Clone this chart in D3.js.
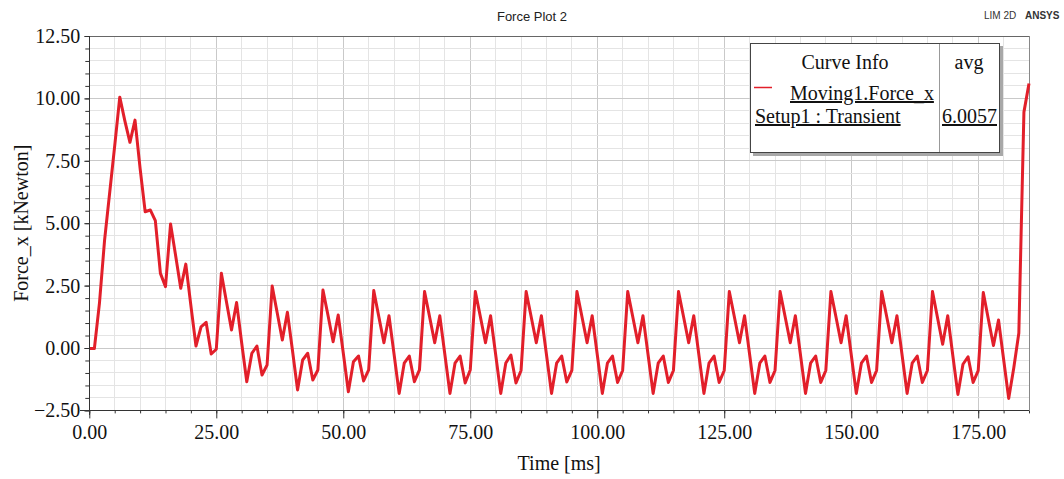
<!DOCTYPE html>
<html><head><meta charset="utf-8">
<script src="https://cdn.jsdelivr.net/npm/d3@7/dist/d3.min.js"></script>
<style>body{margin:0;background:#fff} svg{display:block}</style>
</head><body>
<svg id="c" width="1064" height="479"></svg>
<script>
const times = [0,1,2,3,4,5,6,7,8,9,10,11,12,13,14,15,16,17,18,19,20,21,22,23,24,25,26,27,28,29,30,31,32,33,34,35,36,37,38,39,40,41,42,43,44,45,46,47,48,49,50,51,52,53,54,55,56,57,58,59,60,61,62,63,64,65,66,67,68,69,70,71,72,73,74,75,76,77,78,79,80,81,82,83,84,85,86,87,88,89,90,91,92,93,94,95,96,97,98,99,100,101,102,103,104,105,106,107,108,109,110,111,112,113,114,115,116,117,118,119,120,121,122,123,124,125,126,127,128,129,130,131,132,133,134,135,136,137,138,139,140,141,142,143,144,145,146,147,148,149,150,151,152,153,154,155,156,157,158,159,160,161,162,163,164,165,166,167,168,169,170,171,172,173,174,175,176,177,178,179,180,181,182,183,184,185];
const forceX = [
  -0.02,-0.02,1.8,4.3,6.2,8.1,10.05,9.1,8.24,9.13,
  7.2,5.46,5.53,5.1,2.99,2.46,4.97,3.7,2.39,3.36,
  1.7,0.08,0.85,1.03,-0.24,-0.05,2.99,1.85,0.72,1.82,
  0.2,-1.35,-0.21,0.08,-1.08,-0.68,2.48,1.4,0.32,1.43,
  -0.1,-1.68,-0.48,-0.21,-1.28,-0.88,2.32,1.3,0.25,1.32,
  -0.2,-1.75,-0.55,-0.32,-1.32,-0.88,2.3,1.25,0.21,1.29,
  -0.25,-1.82,-0.61,-0.32,-1.35,-0.88,2.26,1.24,0.21,1.29,
  -0.26,-1.82,-0.61,-0.32,-1.4,-0.88,2.26,1.24,0.21,1.29,
  -0.26,-1.82,-0.6,-0.28,-1.4,-0.9,2.26,1.24,0.21,1.29,
  -0.26,-1.82,-0.61,-0.32,-1.36,-0.9,2.26,1.24,0.21,1.29,
  -0.26,-1.82,-0.61,-0.32,-1.38,-0.9,2.26,1.24,0.21,1.29,
  -0.26,-1.82,-0.61,-0.32,-1.38,-0.9,2.26,1.24,0.21,1.29,
  -0.26,-1.82,-0.61,-0.32,-1.38,-0.9,2.26,1.24,0.21,1.29,
  -0.26,-1.82,-0.61,-0.32,-1.38,-0.9,2.26,1.24,0.21,1.29,
  -0.26,-1.82,-0.61,-0.32,-1.38,-0.9,2.26,1.24,0.21,1.29,
  -0.26,-1.82,-0.61,-0.32,-1.38,-0.9,2.26,1.24,0.21,1.29,
  -0.26,-1.82,-0.61,-0.32,-1.38,-0.9,2.26,1.2,0.15,1.29,
  -0.3,-1.86,-0.65,-0.35,-1.38,-0.91,2.22,1.15,0.1,1.12,
  -0.45,-2.02,-0.8,0.6,9.45,10.6
];
const xTickValues = [0,25,50,75,100,125,150,175];
const yTickValues = [-2.5,0,2.5,5,7.5,10,12.5];
const titleText = "Force Plot 2";
const xLabel = "Time [ms]";
const yLabel = "Force_x [kNewton]";
const legendHeader = ["Curve Info","avg"];
const curveName = "Moving1.Force_x";
const setupName = "Setup1 : Transient";
const avgValue = "6.0057";

const svg = d3.select("#c");
const L = 89.3, R = 1029, T = 36, B = 410.4;
const x = d3.scaleLinear().domain([0,185]).range([L,R]);
const y = d3.scaleLinear().domain([-2.5,12.5]).range([B,T]);
const serif = "'Liberation Serif','Times New Roman',serif";
const sans = "'Liberation Sans',Arial,sans-serif";

// grid
const minorX = d3.range(0,186,5), minorY = d3.range(-2.5,12.51,0.5);
const g = svg.append("g");
g.selectAll(".gx").data(minorX).join("line")
  .attr("x1",d=>x(d)).attr("x2",d=>x(d)).attr("y1",T).attr("y2",B)
  .attr("stroke",d=>d%25===0?"#c9c9c9":"#e4e4e4").attr("stroke-width",1).attr("shape-rendering","crispEdges");
g.selectAll(".gy").data(minorY).join("line")
  .attr("x1",L).attr("x2",R).attr("y1",d=>y(d)).attr("y2",d=>y(d))
  .attr("stroke",d=>Math.abs(d/2.5-Math.round(d/2.5))<1e-6?"#c9c9c9":"#e4e4e4").attr("stroke-width",1).attr("shape-rendering","crispEdges");

// border top/right
svg.append("line").attr("x1",L).attr("x2",R).attr("y1",T).attr("y2",T).attr("stroke","#666").attr("shape-rendering","crispEdges");
svg.append("line").attr("x1",R).attr("x2",R).attr("y1",T).attr("y2",B).attr("stroke","#888").attr("shape-rendering","crispEdges");

// curve
const line = d3.line().x((d,i)=>x(times[i])).y(d=>y(d));
svg.append("path").datum(forceX).attr("d",line).attr("fill","none")
  .attr("stroke","#e21f2a").attr("stroke-width",3).attr("stroke-linejoin","round");

// axes
const xMinor = svg.append("g").attr("transform",`translate(0,${B})`)
  .call(d3.axisBottom(x).tickValues(minorX).tickSize(3).tickFormat(""));
const xAxis = svg.append("g").attr("transform",`translate(0,${B})`)
  .call(d3.axisBottom(x).tickValues(xTickValues).tickSize(8).tickSizeOuter(0).tickPadding(6).tickFormat(d3.format(".2f")));
const yMinor = svg.append("g").attr("transform",`translate(${L},0)`)
  .call(d3.axisLeft(y).tickValues(minorY).tickSize(4).tickFormat(""));
const yAxis = svg.append("g").attr("transform",`translate(${L},0)`)
  .call(d3.axisLeft(y).tickValues(yTickValues).tickSize(5).tickSizeOuter(0).tickPadding(4).tickFormat(d3.format(".2f")));
[xMinor,xAxis,yMinor,yAxis].forEach(a=>{
  a.selectAll("path").attr("stroke","#333");
  a.selectAll("line").attr("stroke","#333");
  a.selectAll("text").attr("font-family",serif).attr("font-size",20).attr("fill","#111");
});
svg.selectAll(".domain").remove();
svg.append("line").attr("x1",80).attr("x2",R).attr("y1",B).attr("y2",B).attr("stroke","#333").attr("shape-rendering","crispEdges");
svg.append("line").attr("x1",L).attr("x2",L).attr("y1",T).attr("y2",B+5).attr("stroke","#333").attr("shape-rendering","crispEdges");

// labels
svg.append("text").attr("x",(L+R)/2).attr("y",470).attr("text-anchor","middle")
  .attr("font-family",serif).attr("font-size",20).attr("fill","#111").text(xLabel);
svg.append("text").attr("transform",`translate(28,${(T+B)/2}) rotate(-90)`).attr("text-anchor","middle")
  .attr("font-family",serif).attr("font-size",20).attr("fill","#111").text(yLabel);
svg.append("text").attr("x",532).attr("y",21).attr("text-anchor","middle")
  .attr("font-family",sans).attr("font-size",13).attr("fill","#222").text(titleText);
svg.append("text").attr("x",984).attr("y",19).attr("font-family",sans).attr("font-size",10).attr("fill","#333").text("LIM 2D");
svg.append("text").attr("x",1025).attr("y",19).attr("font-family",sans).attr("font-size",10).attr("font-weight","bold").attr("fill","#333").text("ANSYS");

// legend
const lg = svg.append("g");
lg.append("rect").attr("x",753).attr("y",46).attr("width",250).attr("height",110).attr("fill","#a8a8a8");
lg.append("rect").attr("x",750.5).attr("y",43.5).attr("width",249).attr("height",109).attr("fill","#fff").attr("stroke","#444");
lg.append("line").attr("x1",939.5).attr("x2",939.5).attr("y1",44).attr("y2",152).attr("stroke","#999");
const tf = s=>s.attr("font-family",serif).attr("font-size",20).attr("fill","#111");
tf(lg.append("text").attr("x",845).attr("y",69).attr("text-anchor","middle").text(legendHeader[0]));
tf(lg.append("text").attr("x",969).attr("y",69).attr("text-anchor","middle").text(legendHeader[1]));
lg.append("line").attr("x1",754).attr("x2",772).attr("y1",87.5).attr("y2",87.5).attr("stroke","#e21f2a").attr("stroke-width",1.5);
tf(lg.append("text").attr("x",790).attr("y",100).attr("text-decoration","underline").text(curveName));
tf(lg.append("text").attr("x",755).attr("y",123).attr("text-decoration","underline").text(setupName));
tf(lg.append("text").attr("x",942).attr("y",123).attr("text-decoration","underline").text(avgValue));
</script>
</body></html>
